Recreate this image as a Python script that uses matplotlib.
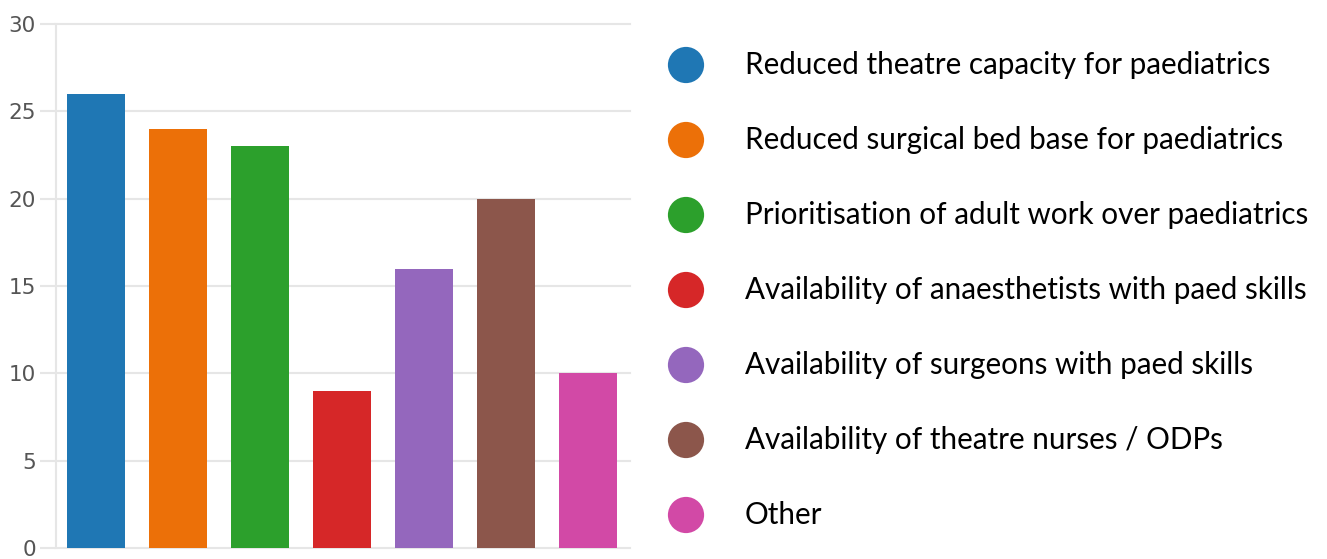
import matplotlib
matplotlib.use("Agg")
import matplotlib.pyplot as plt

# Survey responses
categories = [
    "Reduced theatre capacity for paediatrics",
    "Reduced surgical bed base for paediatrics",
    "Prioritisation of adult work over paediatrics",
    "Availability of anaesthetists with paed skills",
    "Availability of surgeons with paed skills",
    "Availability of theatre nurses / ODPs",
    "Other",
]
counts = [26, 24, 23, 9, 16, 20, 10]
colors = ["#1f77b4", "#ec7008", "#2ca02c", "#d62728", "#9467bd", "#8c564b", "#d249a6"]
y_ticks = [0, 5, 10, 15, 20, 25, 30]

W, H = 1327, 559
fig = plt.figure(figsize=(W / 100, H / 100), dpi=100)

# Bar chart
ax = fig.add_axes([56 / W, 11 / H, (630 - 56) / W, (548 - 24) / H])
x = list(range(len(counts)))
ax.bar(x, counts, width=0.71, color=colors, zorder=2)
ax.set_xlim(-0.49, len(counts) - 0.49)
ax.set_ylim(0, 30)
ax.set_yticks(y_ticks)
ax.set_xticks([])
ax.grid(axis="y", color="#e6e6e6", linewidth=1.5, zorder=0)
for g in ax.get_ygridlines():
    g.set_clip_on(False)
for s in ["top", "right", "bottom"]:
    ax.spines[s].set_visible(False)
ax.spines["left"].set_color("#e6e6e6")
ax.spines["left"].set_linewidth(1.5)
ax.tick_params(axis="y", length=11.5, width=1.5, color="#e6e6e6", pad=3,
               labelsize=15.5, labelcolor="#555555")

# Legend drawn as its own axes
lax = fig.add_axes([637 / W, 0, (W - 637) / W, 1])
lax.set_xlim(637, W)
rows = list(range(len(categories)))
lax.set_ylim((H - 65) / 75, -65 / 75)
lax.scatter([686] * len(rows), rows, s=680, c=colors, linewidths=0)
for r, lab in zip(rows, categories):
    lax.text(745, r, lab, fontsize=21.3, family="Lato", va="center", ha="left", color="black")
lax.axis("off")

fig.savefig("out.png", dpi=100)
